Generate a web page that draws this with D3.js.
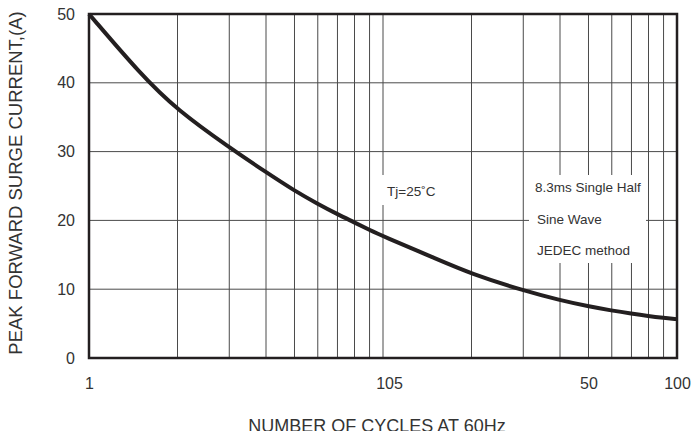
<!DOCTYPE html>
<html>
<head>
<meta charset="utf-8">
<script src="https://cdn.jsdelivr.net/npm/d3@7"></script>
<style>
    body { margin: 0; background: #fff; }
    svg { display: block; font-family: "Liberation Sans", Arial, sans-serif; }
</style>
</head>
<body>
<svg id="chart" width="691" height="431"></svg>
<script>
// curve
var cycles  = [1, 1.5, 2, 3, 4, 5, 6, 7, 8, 9, 10, 15, 20, 30, 40, 50, 60, 70, 80, 90, 100];
var current = [50, 41.2, 36.0, 30.6, 27.0, 24.3, 22.4, 20.9, 19.7, 18.6, 17.7, 14.5, 12.2, 9.8, 8.4, 7.5, 6.9, 6.45, 6.1, 5.85, 5.65];

var yTicks = [0, 10, 20, 30, 40, 50];
var xGrid = [2, 3, 4, 5, 6, 7, 8, 9, 10, 20, 30, 40, 50, 60, 70, 80, 90];
var xTickValues = [1, 10, 50, 100];
var xTickLabels = ["1", "105", "50", "100"];

var notes = ["8.3ms Single Half", "Sine Wave", "JEDEC method"];

var svg = d3.select("#chart");
var plotLeft = 89, plotRight = 677, plotTop = 14, plotBottom = 358;

var x = d3.scaleLog().domain([1, 100]).range([plotLeft, plotRight]);
var y = d3.scaleLinear().domain([0, 50]).range([plotBottom, plotTop]);

var grid = svg.append("g").attr("stroke", "#4a4a4a").attr("stroke-width", 1);
grid.selectAll("line.v")
    .data(xGrid)
    .enter()
    .append("line")
    .attr("class", "v")
    .attr("x1", d => x(d)).attr("x2", d => x(d))
    .attr("y1", plotTop).attr("y2", plotBottom);
grid.selectAll("line.h")
    .data(yTicks.slice(1, -1))
    .enter()
    .append("line")
    .attr("class", "h")
    .attr("x1", plotLeft).attr("x2", plotRight)
    .attr("y1", d => y(d)).attr("y2", d => y(d));

// white boxes behind the notes hide the grid
svg.append("rect").attr("x", 376).attr("y", 175).attr("width", 68).attr("height", 30).attr("fill", "#fff");
svg.append("rect").attr("x", 529).attr("y", 175).attr("width", 117).attr("height", 88).attr("fill", "#fff");

var line = d3.line()
    .x(d => x(d[0]))
    .y(d => y(d[1]))
    .curve(d3.curveBasis);

svg.append("path")
    .datum(d3.zip(cycles, current))
    .attr("d", line)
    .attr("fill", "none")
    .attr("stroke", "#231f20")
    .attr("stroke-width", 4);

svg.append("rect")
    .attr("x", plotLeft).attr("y", plotTop)
    .attr("width", plotRight - plotLeft).attr("height", plotBottom - plotTop)
    .attr("fill", "none")
    .attr("stroke", "#231f20")
    .attr("stroke-width", 2.5);

var yAxis = svg.append("g")
    .attr("transform", `translate(${plotLeft},0)`)
    .call(d3.axisLeft(y).tickValues(yTicks).tickSize(0).tickPadding(14));
yAxis.select(".domain").remove();
yAxis.selectAll("text").style("font-size", "16px").attr("fill", "#333");

var xAxis = svg.append("g")
    .attr("transform", `translate(0,${plotBottom})`)
    .call(d3.axisBottom(x).tickValues(xTickValues).tickSize(0).tickPadding(20)
        .tickFormat((d, i) => xTickLabels[i]));
xAxis.select(".domain").remove();
xAxis.selectAll("text").style("font-size", "16px").attr("fill", "#333")
    .attr("dx", (d, i) => i == 1 ? 6 : 0);

svg.append("text")
    .attr("transform", "translate(22,183) rotate(-90)")
    .attr("text-anchor", "middle")
    .style("font-size", "18.5px")
    .attr("fill", "#333")
    .text("PEAK FORWARD SURGE CURRENT,(A)");

svg.append("text")
    .attr("x", 377).attr("y", 432)
    .attr("text-anchor", "middle")
    .style("font-size", "18px")
    .attr("fill", "#333")
    .text("NUMBER OF CYCLES AT 60Hz");

svg.append("text")
    .attr("x", 387).attr("y", 196)
    .style("font-size", "13.5px")
    .attr("fill", "#333")
    .text("Tj=25˚C");

svg.selectAll("text.note")
    .data(notes)
    .enter()
    .append("text")
    .attr("class", "note")
    .attr("x", (d, i) => i == 0 ? 535 : 537)
    .attr("y", (d, i) => 192 + i * 31.5)
    .style("font-size", "13.5px")
    .attr("fill", "#333")
    .text(d => d);
</script>
</body>
</html>
